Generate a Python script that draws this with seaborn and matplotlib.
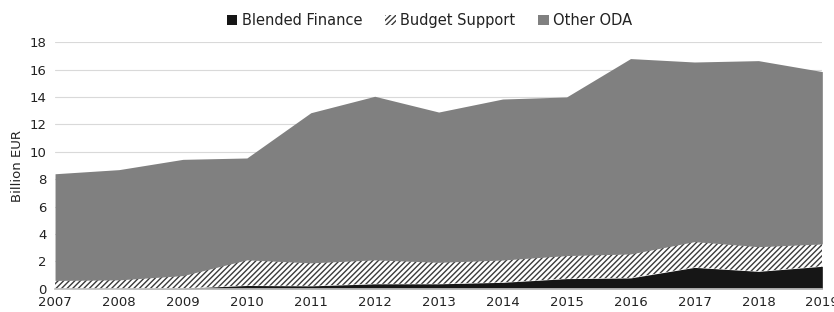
import matplotlib
matplotlib.use("Agg")
import matplotlib.pyplot as plt
import seaborn as sns
import numpy as np

years = [2007, 2008, 2009, 2010, 2011, 2012, 2013, 2014, 2015, 2016, 2017, 2018, 2019]
blended = [0.0, 0.0, 0.05, 0.25, 0.22, 0.37, 0.37, 0.48, 0.75, 0.8, 1.57, 1.28, 1.65]
budget_top = [0.62, 0.66, 0.97, 2.12, 1.9, 2.12, 1.94, 2.11, 2.43, 2.55, 3.45, 3.08, 3.28]
total = [8.4, 8.7, 9.45, 9.55, 12.85, 14.05, 12.9, 13.85, 14.0, 16.8, 16.55, 16.65, 15.85]

budget = [t - b for t, b in zip(budget_top, blended)]
other = [tot - t for tot, t in zip(total, budget_top)]
labels = ["Blended Finance", "Budget Support", "Other ODA"]

sns.set_theme(style="whitegrid")
plt.rcParams['font.family'] = ['DejaVu Sans']
plt.rcParams['hatch.linewidth'] = 1.0
plt.rcParams['hatch.color'] = '#3a3a3a'

fig = plt.figure(figsize=(8.34, 3.12), dpi=100)
ax = fig.add_axes([0.066, 0.074, 0.92, 0.791])

polys = ax.stackplot(years, blended, budget, other,
                     colors=['#161616', 'white', '#808080'],
                     labels=labels, linewidth=0)
polys[1].set_hatch('//////')
polys[1].set_edgecolor('#3a3a3a')
polys[1].set_linewidth(0)

ax.set_xlim(2007, 2019)
ax.set_ylim(0, 18)
ax.set_yticks(range(0, 19, 2))
ax.set_xticks(years)
ax.grid(axis='y', color='#d9d9d9', linewidth=0.8)
ax.grid(axis='x', visible=False)
ax.set_axisbelow(True)
for s in ['top', 'right', 'left']:
    ax.spines[s].set_visible(False)
ax.spines['bottom'].set_color('#bfbfbf')
ax.tick_params(axis='x', length=3, color='#bfbfbf', labelsize=9.5, colors='#222222', pad=2)
ax.tick_params(axis='y', length=0, labelsize=9.5, colors='#222222', pad=6)
ax.tick_params(axis='x', colors='#bfbfbf')
for t in ax.get_xticklabels() + ax.get_yticklabels():
    t.set_color('#222222')
ax.set_ylabel("Billion EUR", fontsize=9.5, color='#222222', labelpad=4)

leg = fig.legend(handles=polys, labels=labels, loc='upper center',
                 bbox_to_anchor=(0.515, 1.0), ncol=3, frameon=False,
                 fontsize=10.5, handlelength=0.7, handleheight=0.7,
                 handletextpad=0.3, columnspacing=1.6)
for txt in leg.get_texts():
    txt.set_color('#222222')

fig.savefig("out.png", dpi=100)
